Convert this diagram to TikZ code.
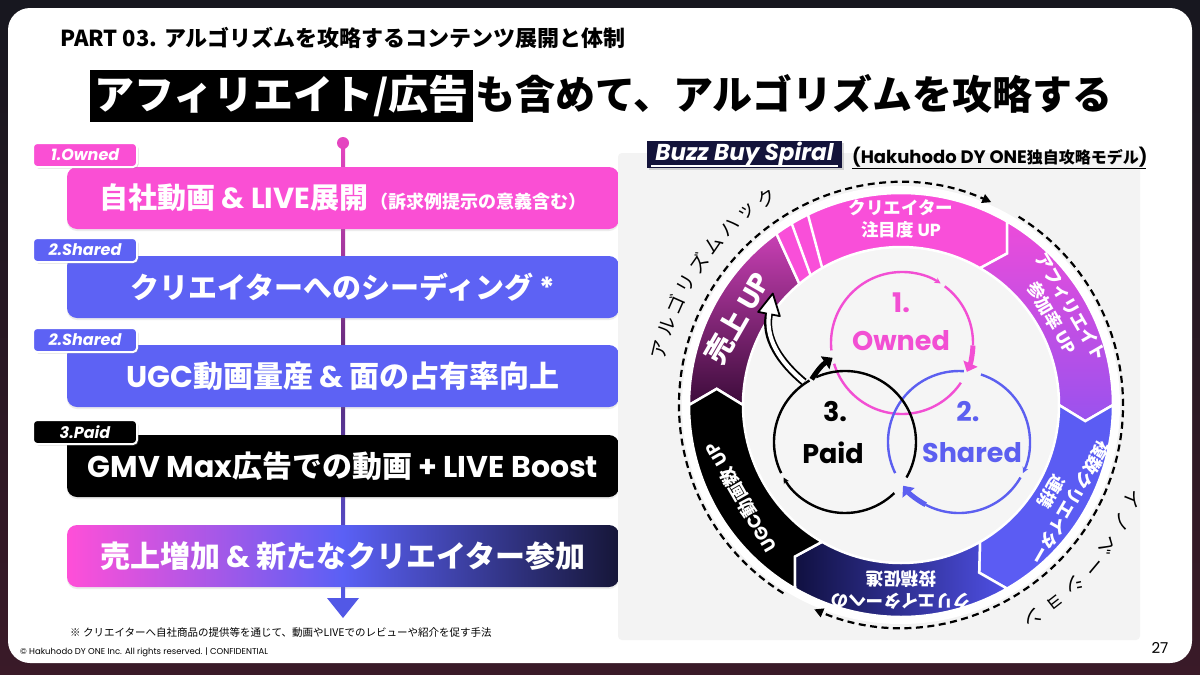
\documentclass[tikz,border=0pt]{standalone}
\usepackage{fontspec}
\setmainfont{Noto Sans CJK JP}
\newfontfamily\pop{Poppins}
\usetikzlibrary{arrows.meta,shadows}
\newcommand\fsz[2]{\fontsize{#1}{#2}\selectfont}
\definecolor{bgtop}{HTML}{17171F}
\definecolor{bgbot}{HTML}{3A1A28}
\definecolor{opink}{HTML}{FA4FD4}
\definecolor{sblue}{HTML}{5D62F4}
\definecolor{navy}{HTML}{13133A}
\definecolor{panelgray}{HTML}{F3F3F3}
\definecolor{innergray}{HTML}{F5F5F5}
\definecolor{cpink}{HTML}{F24FD3}
\definecolor{cblue}{HTML}{5C5FF0}
\definecolor{linepink}{HTML}{E545C0}
\definecolor{linemid}{HTML}{5A2A78}
\definecolor{lineblue}{HTML}{5258E6}
\definecolor{segpinkA}{HTML}{C840B4}
\definecolor{segpurpleA}{HTML}{3C0C3A}
\definecolor{segpink}{HTML}{F94FD9}
\definecolor{affpink}{HTML}{EC4CDA}
\definecolor{affpurple}{HTML}{9A52EE}
\definecolor{segblue}{HTML}{5B5CF3}
\definecolor{postnavy}{HTML}{101040}
\definecolor{postblue}{HTML}{4F50E5}
\definecolor{gradpink}{HTML}{FF4FD8}
\definecolor{gradblue}{HTML}{5A60F5}
\definecolor{gradnavy}{HTML}{161638}
\tikzset{
 stepbox/.style={rounded corners=10pt, minimum width=552pt, minimum height=62pt, inner sep=0pt, text=white, font=\bfseries\fsz{29}{34}, drop shadow={opacity=0.15, shadow xshift=0pt, shadow yshift=-2pt}},
 tagbox/.style={draw=white, line width=2pt, rounded corners=4pt, minimum width=104pt, minimum height=24pt, inner sep=0pt, text=white, font=\pop\bfseries\itshape\fsz{16}{18}, drop shadow={opacity=0.3, shadow xshift=1.5pt, shadow yshift=-1.5pt}},
 seg/.style={draw=white, line width=2.5pt, line join=miter},
 ringlbl/.style={text=white, font=\bfseries\fsz{17.5}{22}, align=center, inner sep=0pt},
 arcch/.style={font=\fsz{19}{20}, inner sep=0pt, text=black},
 circlbl/.style={font=\pop\bfseries\fsz{27}{30}, inner sep=0pt},
 thinarc/.style={line width=2.4pt},
 chunk/.style={line width=5pt, -{Triangle[length=9pt,width=15pt]}},
 smalltip/.style={-{Stealth[length=6pt,width=6pt]}},
 dashring/.style={line width=2.2pt, dash pattern=on 7pt off 4.5pt, -{Triangle[length=9pt,width=9pt]}},
}
\newcommand\ringseg[3]{%
 \path[seg,#3] (#1:212) arc[start angle=#1, end angle=#2, radius=212] -- ({#2-5}:185) -- (#2:158) arc[start angle=#2, end angle=#1, radius=158] -- ({#1-5}:185) -- cycle;}
\begin{document}
\begin{tikzpicture}[x=1pt,y=-1pt]
\useasboundingbox (0,0) rectangle (1200,675);
% background and card
\shade[top color=bgtop, bottom color=bgbot] (0,0) rectangle (1200,675);
\fill[white, rounded corners=22pt] (8,8) rectangle (1192,663);
% headings
\node[anchor=west, font=\bfseries\fsz{22}{24}, inner sep=0pt] (part) at (60,38) {PART 03. アルゴリズムを攻略するコンテンツ展開と体制};
\node[anchor=west, fill=black, text=white, inner xsep=4pt, inner ysep=3pt, text height=36pt, text depth=10pt, font=\bfseries\fsz{40}{44}] (t1) at (90,96) {アフィリエイト/広告};
\node[anchor=west, inner xsep=2pt, inner ysep=3pt, text height=36pt, text depth=10pt, font=\bfseries\fsz{40}{44}] (t2) at (t1.east) {も含めて、アルゴリズムを攻略する};
% flow line
\node[circle, fill=linepink, minimum size=12pt, inner sep=0pt] (dot) at (343,143) {};
\shade[top color=linepink, bottom color=lineblue, middle color=linemid] (341,143) rectangle (345,600);
\coordinate (arrtip) at (343,618);
\fill[lineblue] (327,598) -- (359,598) -- (arrtip) -- cycle;
% step boxes
\node[stepbox, fill=opink] (b1) at (343,198) {自社動画{\pop\ \& LIVE}展開\hspace{2pt}{\fsz{18}{20}（訴求例提示の意義含む）}};
\node[stepbox, fill=sblue] (b2) at (343,287) {クリエイターへのシーディング{\pop\ *}};
\node[stepbox, fill=sblue, font=\bfseries\fsz{30}{34}] (b3) at (343,376) {{\pop UGC}動画量産{\pop\ \& }面の占有率向上};
\node[stepbox, fill=black, font=\bfseries\fsz{30}{34}] (b4) at (343,466) {{\pop GMV Max}広告での動画{\pop\ + LIVE Boost}};
\node[stepbox, left color=gradpink, right color=gradnavy, middle color=gradblue, font=\bfseries\fsz{30}{34}] (b5) at (343,556) {売上増加{\pop\ \& }新たなクリエイター参加};
\node[tagbox, fill=opink] (tag1) at (85,155) {1.Owned};
\node[tagbox, fill=sblue] (tag2) at (85,250) {2.Shared};
\node[tagbox, fill=sblue] (tag3) at (85,340) {2.Shared};
\node[tagbox, fill=black] (tag4) at (85,432) {3.Paid};
% footer
\node[anchor=west, font=\fsz{10.5}{12}, inner sep=0pt] (note) at (70,633) {※ クリエイターへ自社商品の提供等を通じて、動画やLIVEでのレビューや紹介を促す手法};
\node[anchor=west, font=\pop\fsz{8.5}{10}, inner sep=0pt] (copy) at (20,652) {© Hakuhodo DY ONE Inc. All rights reserved. | CONFIDENTIAL};
\node[font=\pop\fsz{15}{17}, inner sep=0pt] (pageno) at (1160,648) {27};
% right panel
\fill[panelgray, rounded corners=4pt] (618,153) rectangle (1140,640);
\node[fill=navy, text=white, font=\pop\bfseries\itshape\fsz{23}{26}, minimum width=195pt, minimum height=27pt, inner sep=0pt, drop shadow={opacity=0.3, shadow xshift=2pt, shadow yshift=-2pt}] (bbs) at (744.5,154) {Buzz Buy Spiral};
\draw[white, line width=1.3pt] (651,166) -- (838,166);
\node[anchor=west, font=\bfseries, inner sep=0pt] (bbsub) at (852,157) {{\pop\fsz{18}{20}(Hakuhodo DY ONE}{\fsz{16}{18}独自攻略モデル}{\pop\fsz{18}{20})}};
\draw[black, line width=1pt] (852,168) -- (1146,168);
% ring
\begin{scope}[shift={(901,405)}, y={(0pt,1pt)}]
 \fill[white] (0,0) circle (219);
 \fill[innergray] (0,0) circle (157);
 \draw[dashring] (238:222) arc[start angle=238, end angle=66, radius=222];
 \draw[dashring] (58:222) arc[start angle=58, end angle=-113, radius=222];
 % segments
 \path[seg, top color=segpinkA, bottom color=segpurpleA] (180:212) arc[start angle=180, end angle=126, radius=212] -- (130:158) arc[start angle=130, end angle=180, radius=158] -- (175:185) -- cycle;
 \path[seg, fill=segpink] (126:212) arc[start angle=126, end angle=60, radius=212] -- (55:185) -- (60:158) arc[start angle=60, end angle=130, radius=158] -- cycle;
 \draw[white, line width=2.5pt] (121:213) -- (125:157);
 \draw[white, line width=2.5pt] (116:213) -- (120:157);
 \ringseg{60}{0}{top color=affpink, bottom color=affpurple}
 \ringseg{0}{-60}{fill=segblue}
 \ringseg{-60}{-120}{left color=postnavy, right color=postblue}
 \ringseg{-120}{-180}{fill=black}
 % ring labels
 \node[ringlbl, font=\bfseries\fsz{28}{30}, rotate=60] (lblA) at (152:185) {売上 {\pop UP}};
 \node[ringlbl] (lblB) at (90:186) {クリエイター\\注目度 {\pop UP}};
 \node[ringlbl, rotate=-60] (lblC) at (30:185) {アフィリエイト\\参加率 {\pop UP}};
 \node[ringlbl, rotate=-120] (lblD) at (-30:185) {複数クリエイター\\連携};
 \node[ringlbl, rotate=-180] (lblE) at (-90:185) {クリエイターへの\\投稿促進};
 \node[ringlbl, font=\bfseries\fsz{18}{22}, rotate=120] (lblF) at (-150:185) {{\pop UGC}動画数 {\pop UP}};
 % outer arc texts
 \foreach \ch [count=\i] in {ア,ル,ゴ,リ,ズ,ム,ハ,ッ,ク} {
  \pgfmathsetmacro\ang{167-(\i-1)*5.5}
  \node[arcch, rotate=\ang-90] (alg\i) at (\ang:247) {\ch};
 }
 \foreach \ch [count=\i] in {イ,ノ,ベ,ー,シ,ョ,ン} {
  \pgfmathsetmacro\ang{-22-(\i-1)*6}
  \node[arcch, rotate=\ang-90] (inv\i) at (\ang:250) {\ch};
 }
 % circles
 \begin{scope}[shift={(1,62)}]
  \draw[cpink, thinarc, smalltip] (186:71) arc[start angle=186, end angle=57, radius=71];
  \draw[cpink, thinarc] (53:71) arc[start angle=53, end angle=-2, radius=71];
  \draw[cpink, chunk] (-2:71) arc[start angle=-2, end angle=-24, radius=71];
  \draw[cpink, thinarc] (-34:71) arc[start angle=-34, end angle=-163, radius=71];
 \end{scope}
 \begin{scope}[shift={(58,-37)}]
  \draw[cblue, thinarc, smalltip] (72:71) arc[start angle=72, end angle=-26, radius=71];
  \draw[cblue, thinarc] (-30:71) arc[start angle=-30, end angle=-118, radius=71];
  \draw[cblue, chunk] (-118:71) arc[start angle=-118, end angle=-142, radius=71];
  \draw[cblue, thinarc] (206:71) arc[start angle=206, end angle=86, radius=71];
 \end{scope}
 \begin{scope}[shift={(-56,-37)}]
  \draw[black, thinarc, smalltip] (-46:71) arc[start angle=-46, end angle=-150, radius=71];
  \draw[black, thinarc] (206:71) arc[start angle=206, end angle=120, radius=71];
  \draw[black, thinarc] (114:71) arc[start angle=114, end angle=-30, radius=71];
 \end{scope}
 \coordinate (bk1) at (-89.3,25.7);
 \coordinate (bk2) at (-68.4,47.2);
 \draw[black, chunk] (bk1) to[bend left=12] (bk2);
 \node[circlbl, text=cpink] (o1) at (0,102) {1.};
 \node[circlbl, text=cpink] (o2) at (0,64) {Owned};
 \node[circlbl, text=cblue] (s1) at (67,-7) {2.};
 \node[circlbl, text=cblue] (s2) at (71,-48) {Shared};
 \node[circlbl] (p1) at (-66,-7) {3.};
 \node[circlbl] (p2) at (-68,-48) {Paid};
\end{scope}
% white double arrow from Paid to the ring
\coordinate (wa1) at (804,382);
\coordinate (wa2) at (769,314);
\coordinate (wa3) at (769.6,311);
\draw[black, line width=8pt] (wa1) .. controls (780,362) and (764,338) .. (wa2);
\filldraw[fill=white, draw=black, line width=1.8pt, line join=round] (758.2,311.9) -- (772.8,293.5) -- (779.8,316.1) -- cycle;
\draw[white, line width=4.2pt] (wa1) .. controls (780,362) and (764,338) .. (wa3);
\end{tikzpicture}
\end{document}
